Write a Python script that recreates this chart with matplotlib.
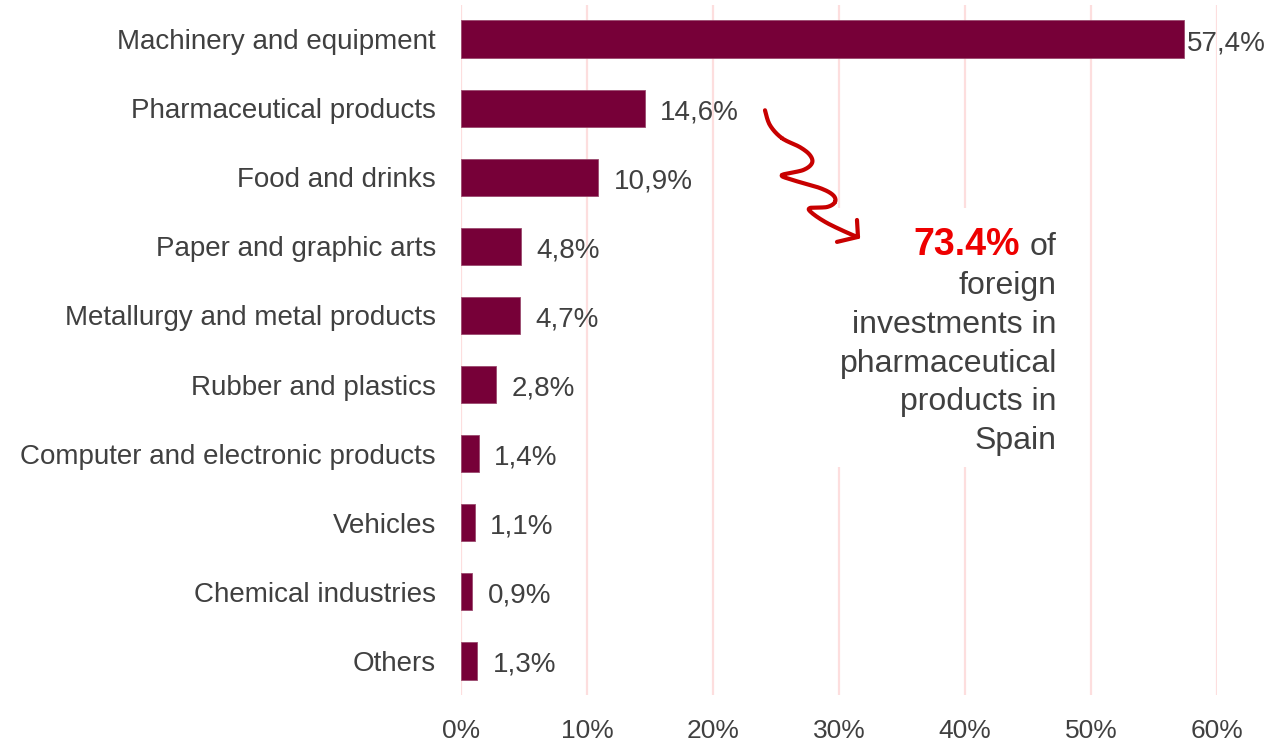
import numpy as np
import matplotlib
matplotlib.use("Agg")
import matplotlib.pyplot as plt
from matplotlib.patches import Rectangle

plt.rcParams["font.family"] = ["Liberation Sans", "DejaVu Sans"]

categories = [
    "Machinery and equipment",
    "Pharmaceutical products",
    "Food and drinks",
    "Paper and graphic arts",
    "Metallurgy and metal products",
    "Rubber and plastics",
    "Computer and electronic products",
    "Vehicles",
    "Chemical industries",
    "Others",
]
shares = [57.4, 14.6, 10.9, 4.8, 4.7, 2.8, 1.4, 1.1, 0.9, 1.3]
value_labels = ["57,4%", "14,6%", "10,9%", "4,8%", "4,7%", "2,8%", "1,4%", "1,1%", "0,9%", "1,3%"]
x_ticks = [0, 10, 20, 30, 40, 50, 60]
x_tick_labels = ["0%", "10%", "20%", "30%", "40%", "50%", "60%"]

highlight = "73.4%"
note_lines = ["of", "foreign", "investments in", "pharmaceutical", "products in", "Spain"]

bar_color = "#770038"
text_color = "#404040"
grid_color = "#fddede"

fig = plt.figure(figsize=(12.71, 7.42), dpi=100)
ax = fig.add_axes([0.3627, 0.0633, 0.5948, 0.93])

y = np.arange(len(categories))
ax.barh(y, shares, height=0.55, color=bar_color, edgecolor="#9a4a6e", linewidth=0.6, zorder=3)

for i, (v, lab) in enumerate(zip(shares, value_labels)):
    off = 2 if i == 0 else 11
    ax.annotate(lab, xy=(v, i), xytext=(off, -1), textcoords="offset points",
                ha="left", va="center_baseline", fontsize=20, color=text_color, zorder=4)

ax.set_ylim(len(categories) - 0.5, -0.5)
ax.set_xlim(0, 60)
ax.set_yticks(y)
ax.set_yticklabels(categories, fontsize=20, color=text_color)
ax.set_xticks(x_ticks)
ax.set_xticklabels(x_tick_labels, fontsize=19, color=text_color)
ax.tick_params(axis="both", length=0)
ax.tick_params(axis="y", pad=18)
ax.tick_params(axis="x", pad=17)
ax.grid(axis="x", color=grid_color, linewidth=1.6, zorder=0)
ax.grid(axis="y", visible=False)
ax.set_axisbelow(True)
for s in ax.spines.values():
    s.set_visible(False)


# helper: pixel position in the 1271x742 picture -> data coords
def px(x, yy):
    return (x - 461) / 12.6, (yy - 39) / 69.2


# white box behind the note hides the gridlines
x0, y0 = px(828, 208)
x1, y1 = px(1062, 468)
ax.add_patch(Rectangle((x0, y0), x1 - x0, y1 - y0, facecolor="white", edgecolor="none", zorder=1))

# note text
nx, ny = px(1057, 255)
line_step = 39 / 69.2
for k, line in enumerate(note_lines):
    ax.text(nx, ny + k * line_step, line, ha="right", va="baseline", fontsize=23, color=text_color, zorder=5)
ax.annotate(highlight, xy=(nx, ny), xytext=(-27, 0), textcoords="offset points",
            ha="right", va="baseline", fontsize=27, fontweight="bold", color="#ee0000", zorder=5)

# hand-drawn squiggly arrow (Catmull-Rom through a few waypoints)
way = np.array([px(*p) for p in [
    (765, 110), (770, 125), (782, 138), (800, 147), (810, 155), (812, 163), (803, 170),
    (782, 175), (793, 180), (820, 188), (833, 195), (835, 202), (827, 207), (810, 208),
    (812, 213), (827, 223), (850, 234), (858, 237)]])
pts = np.vstack([way[0], way, way[-1]])
curve = []
for i in range(1, len(pts) - 2):
    p0, p1, p2, p3 = pts[i - 1], pts[i], pts[i + 1], pts[i + 2]
    for t in np.linspace(0, 1, 12):
        curve.append(0.5 * ((2 * p1) + (-p0 + p2) * t + (2 * p0 - 5 * p1 + 4 * p2 - p3) * t ** 2
                            + (-p0 + 3 * p1 - 3 * p2 + p3) * t ** 3))
curve = np.array(curve)
arrow_color = "#c80000"
ax.plot(curve[:, 0], curve[:, 1], color=arrow_color, lw=3, solid_capstyle="round",
        solid_joinstyle="round", zorder=6)
tip = px(858, 237)
for end in [px(837, 242), px(857, 220)]:
    ax.plot([end[0], tip[0]], [end[1], tip[1]], color=arrow_color, lw=3, solid_capstyle="round", zorder=6)

fig.savefig("out.png", dpi=100)
